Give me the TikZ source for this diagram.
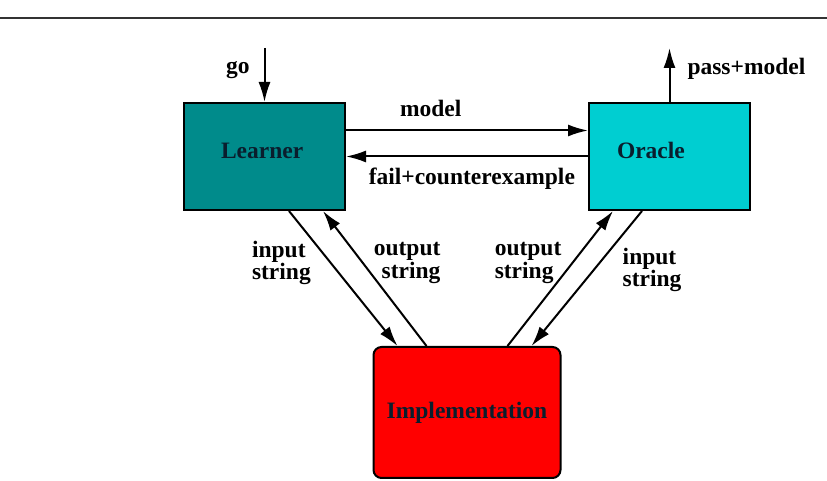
\documentclass[tikz,border=0pt]{standalone}
\usepackage{fontspec}
\setmainfont{Liberation Serif}
\usetikzlibrary{arrows.meta,positioning,calc}
\definecolor{learnercol}{RGB}{0,139,139}
\definecolor{oraclecol}{RGB}{0,206,209}
\definecolor{implcol}{RGB}{255,0,0}
\definecolor{boxtext}{RGB}{10,30,45}

\begin{document}
\begin{tikzpicture}[x=1pt, y=1pt,
  box/.style={draw, line width=2pt, minimum width=161pt, minimum height=107pt, inner sep=0pt, font=\fontsize{23.5}{20}\selectfont\bfseries, text=boxtext},
  lbl/.style={font=\fontsize{23.5}{20}\selectfont\bfseries, align=left, inner sep=0pt},
  arr/.style={-{Latex[length=20pt,width=12pt]}, line width=2pt}
]
\useasboundingbox (0,0) rectangle (827,481);
\draw[line width=2pt, black!80] (0,463) -- (827,463);

\node[box, fill=learnercol, text depth=12pt, text width=87pt, align=left] (learner) at (264.5,324.5) {Learner};
\node[box, fill=oraclecol, text depth=12pt, text width=105pt, align=left, right=242pt of learner] (oracle) {Oracle};
\coordinate (mid) at ($(learner.south)!0.5!(oracle.south)$);
\node[box, fill=implcol, rounded corners=8pt, minimum width=187pt, minimum height=131pt, below=135pt of mid] (impl) {Implementation};

\coordinate[above=54pt of learner.north] (gostart);
\coordinate[above=54pt of oracle.north] (passend);

\draw[arr] (gostart) -- node[lbl, left=14pt, pos=0.41] {go} (learner.north);
\draw[arr] (oracle.north) -- node[lbl, right=17pt, pos=0.61] {pass+model} (passend);
\draw[arr] ([yshift=26pt]learner.east) -- node[lbl, above=13pt, pos=0.35] {model} ([yshift=26pt]oracle.west);
\draw[arr] (oracle.west) -- node[lbl, below=10pt, pos=0.48] {fail+counterexample} (learner.east);

\draw[arr] ([xshift=24.5pt]learner.south) -- node[lbl, left=19pt, pos=0.385] {input\\string} ([xshift=-69.5pt]impl.north);
\draw[arr] ([xshift=-40.5pt]impl.north) -- node[lbl, align=right, right=10pt, pos=0.615] {output\\string} ([xshift=58.5pt]learner.south);
\draw[arr] ([xshift=40.5pt]impl.north) -- node[lbl, left=10pt, pos=0.615] {output\\string} ([xshift=-56.5pt]oracle.south);
\draw[arr] ([xshift=-27.5pt]oracle.south) -- node[lbl, right=28pt, pos=0.437] {input\\string} ([xshift=64.5pt]impl.north);
\end{tikzpicture}
\end{document}
